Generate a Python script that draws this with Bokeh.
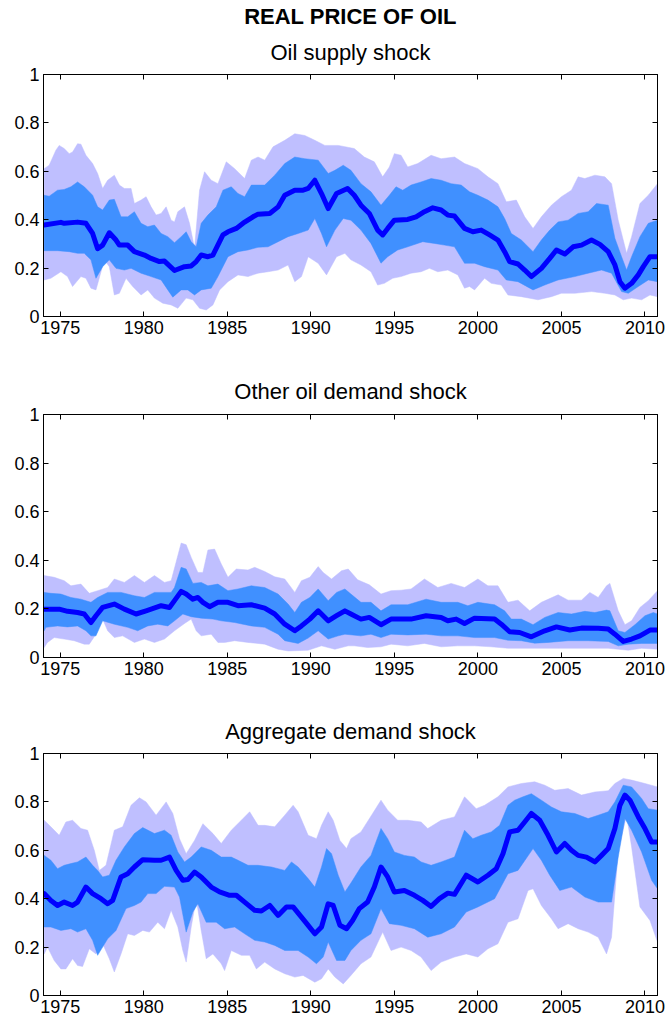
from bokeh.plotting import figure
from bokeh.layouts import column
from bokeh.models import Range1d, FixedTicker, LinearAxis, Title
from bokeh.embed import file_html
from bokeh.resources import INLINE

FONT = "Liberation Sans"
MAIN_TITLE = "REAL PRICE OF OIL"
PANEL_TITLES = ["Oil supply shock", "Other oil demand shock", "Aggregate demand shock"]
YEAR_TICKS = [1975, 1980, 1985, 1990, 1995, 2000, 2005, 2010]
Y_TICKS = [0, 0.2, 0.4, 0.6, 0.8, 1]
Y_LABELS = {0: "0", 0.2: "0.2", 0.4: "0.4", 0.6: "0.6", 0.8: "0.8", 1: "1"}
X_START, X_END = 1974.0, 2010.75

# ---------------- Panel 1: oil supply shock ----------------
supply_med_yr = [1974.04, 1975.04, 1975.24, 1976.04, 1976.54, 1976.94, 1977.24, 1977.54, 1977.94, 1978.34,
                 1978.54, 1979.04, 1979.44, 1980.04, 1980.44, 1980.94, 1981.24, 1981.84, 1982.44, 1982.84,
                 1983.14, 1983.44, 1983.84, 1984.14, 1984.74, 1985.04, 1985.54, 1986.04, 1986.54, 1986.84,
                 1987.54, 1988.04, 1988.44, 1989.04, 1989.54, 1989.84, 1990.24, 1990.64, 1991.04, 1991.54,
                 1992.2, 1992.6, 1993.0, 1993.5, 1994.0, 1994.3, 1994.6, 1995.0, 1995.8, 1996.3,
                 1996.8, 1997.3, 1997.8, 1998.2, 1998.6, 1999.2, 1999.7, 2000.2, 2000.7, 2001.2,
                 2001.6, 2001.9, 2002.4, 2002.8, 2003.2, 2003.8, 2004.3, 2004.7, 2005.2, 2005.7,
                 2006.2, 2006.8, 2007.3, 2007.8, 2008.2, 2008.5, 2008.8, 2009.2, 2009.6, 2009.9,
                 2010.3, 2010.75]
supply_med = [0.378, 0.389, 0.385, 0.39, 0.385, 0.343, 0.28, 0.295, 0.346, 0.316,
              0.295, 0.295, 0.268, 0.254, 0.24, 0.227, 0.229, 0.19, 0.206, 0.209,
              0.227, 0.254, 0.247, 0.254, 0.337, 0.35, 0.364, 0.39, 0.412, 0.423,
              0.426, 0.453, 0.501, 0.522, 0.522, 0.529, 0.563, 0.508, 0.446, 0.508,
              0.529, 0.501, 0.46, 0.426, 0.357, 0.337, 0.364, 0.398, 0.401, 0.412,
              0.433, 0.449, 0.44, 0.419, 0.415, 0.364, 0.35, 0.357, 0.337, 0.316,
              0.268, 0.227, 0.217, 0.192, 0.165, 0.199, 0.24, 0.275, 0.258, 0.288,
              0.295, 0.316, 0.298, 0.268, 0.213, 0.144, 0.117, 0.137, 0.172, 0.206,
              0.247, 0.247]

supply_in_hi_yr = [1974.04, 1974.34, 1974.84, 1975.24, 1975.64, 1976.04, 1976.44, 1976.94, 1977.24, 1977.54,
                   1977.94, 1978.24, 1978.64, 1979.04, 1979.44, 1979.84, 1980.24, 1980.64, 1981.04, 1981.44,
                   1981.84, 1982.24, 1982.54, 1982.84, 1983.14, 1983.44, 1983.84, 1984.34, 1984.74, 1985.24,
                   1985.64, 1986.04, 1986.44, 1987.24, 1987.84, 1988.44, 1989.04, 1989.64, 1990.44, 1991.04,
                   1991.44, 1991.94, 1992.4, 1993.0, 1993.6, 1994.2, 1994.7, 1995.1, 1995.5, 1996.0,
                   1996.6, 1997.2, 1997.8, 1998.4, 1999.0, 1999.5, 2000.0, 2000.6, 2001.2, 2001.6,
                   2002.0, 2002.6, 2003.3, 2003.8, 2004.3, 2004.8, 2005.4, 2006.0, 2006.6, 2007.1,
                   2007.8, 2008.2, 2008.6, 2008.9, 2009.2, 2009.7, 2010.2, 2010.75]
supply_in_hi = [0.501, 0.497, 0.522, 0.525, 0.536, 0.556, 0.536, 0.501, 0.453, 0.44,
                0.481, 0.484, 0.412, 0.412, 0.433, 0.385, 0.371, 0.378, 0.343, 0.33,
                0.305, 0.33, 0.35, 0.309, 0.288, 0.385, 0.419, 0.453, 0.522, 0.536,
                0.508, 0.495, 0.543, 0.543, 0.584, 0.632, 0.659, 0.652, 0.646, 0.591,
                0.604, 0.625, 0.604, 0.549, 0.515, 0.46, 0.501, 0.536, 0.522, 0.543,
                0.556, 0.57, 0.563, 0.549, 0.543, 0.515, 0.501, 0.481, 0.453, 0.405,
                0.343, 0.316, 0.268, 0.316, 0.357, 0.391, 0.398, 0.426, 0.433, 0.467,
                0.46, 0.323, 0.247, 0.192, 0.247, 0.33, 0.385, 0.398]

supply_in_lo_yr = [1974.04, 1974.84, 1975.54, 1976.04, 1976.44, 1976.84, 1977.14, 1977.54, 1977.94, 1978.34,
                   1978.84, 1979.24, 1979.84, 1980.44, 1981.04, 1981.44, 1981.74, 1982.24, 1982.64, 1983.04,
                   1983.44, 1984.04, 1984.44, 1985.04, 1985.64, 1986.24, 1986.84, 1987.44, 1988.04, 1988.64,
                   1989.24, 1989.84, 1990.24, 1990.64, 1990.94, 1991.44, 1991.94, 1992.4, 1993.0, 1993.6,
                   1994.2, 1994.6, 1995.2, 1995.8, 1996.7, 1997.4, 1998.0, 1998.6, 1999.2, 1999.8,
                   2000.4, 2001.2, 2001.7, 2002.4, 2003.3, 2004.0, 2004.8, 2005.8, 2006.6, 2007.4,
                   2008.0, 2008.6, 2009.0, 2009.6, 2010.2, 2010.75]
supply_in_lo = [0.272, 0.272, 0.268, 0.261, 0.261, 0.234, 0.158, 0.206, 0.234, 0.199,
                0.192, 0.199, 0.179, 0.165, 0.151, 0.11, 0.08, 0.11, 0.11, 0.089,
                0.11, 0.117, 0.165, 0.247, 0.268, 0.275, 0.286, 0.288, 0.309, 0.33,
                0.343, 0.357, 0.405, 0.343, 0.288, 0.357, 0.405, 0.398, 0.357, 0.302,
                0.22, 0.247, 0.275, 0.288, 0.309, 0.302, 0.295, 0.288, 0.22, 0.22,
                0.206, 0.192, 0.151, 0.144, 0.11, 0.13, 0.151, 0.165, 0.179, 0.192,
                0.179, 0.103, 0.096, 0.124, 0.151, 0.144]

supply_out_hi_yr = [1974.04, 1974.34, 1974.74, 1974.94, 1975.24, 1975.54, 1975.74, 1976.04, 1976.24, 1976.54,
                    1976.94, 1977.24, 1977.54, 1977.84, 1978.24, 1978.54, 1978.84, 1979.24, 1979.44, 1979.84,
                    1980.14, 1980.44, 1980.74, 1981.04, 1981.34, 1981.64, 1981.84, 1982.04, 1982.44, 1982.74,
                    1983.04, 1983.34, 1983.64, 1984.04, 1984.44, 1984.94, 1985.44, 1986.04, 1986.44, 1986.84,
                    1987.24, 1987.74, 1988.44, 1989.04, 1989.64, 1990.24, 1990.84, 1991.64, 1992.6, 1993.2,
                    1993.8, 1994.3, 1994.7, 1995.0, 1995.4, 1995.8, 1996.4, 1997.2, 1997.8, 1998.6,
                    1999.2, 2000.0, 2000.6, 2001.2, 2001.7, 2002.3, 2002.8, 2003.3, 2003.8, 2004.4,
                    2005.0, 2005.6, 2006.0, 2006.4, 2007.0, 2007.6, 2008.0, 2008.4, 2008.9, 2009.2,
                    2009.7, 2010.2, 2010.75]
supply_out_hi = [0.611, 0.625, 0.687, 0.707, 0.694, 0.673, 0.68, 0.714, 0.712, 0.666,
                 0.632, 0.591, 0.529, 0.563, 0.584, 0.543, 0.529, 0.529, 0.467, 0.481,
                 0.495, 0.453, 0.419, 0.426, 0.453, 0.398, 0.391, 0.433, 0.453, 0.385,
                 0.282, 0.522, 0.598, 0.563, 0.549, 0.639, 0.611, 0.57, 0.646, 0.659,
                 0.646, 0.701, 0.728, 0.755, 0.748, 0.728, 0.707, 0.707, 0.694, 0.659,
                 0.639, 0.577, 0.618, 0.673, 0.666, 0.618, 0.632, 0.666, 0.652, 0.659,
                 0.632, 0.611, 0.577, 0.549, 0.474, 0.481, 0.412, 0.364, 0.412, 0.46,
                 0.495, 0.522, 0.577, 0.57, 0.584, 0.577, 0.549, 0.398, 0.261, 0.33,
                 0.467, 0.501, 0.549]

supply_out_lo_yr = [1974.04, 1974.44, 1975.04, 1975.44, 1975.74, 1976.24, 1976.54, 1976.84, 1977.14, 1977.64,
                    1977.94, 1978.24, 1978.54, 1978.94, 1979.34, 1979.84, 1980.24, 1980.64, 1981.14, 1981.64,
                    1982.04, 1982.54, 1982.94, 1983.34, 1983.74, 1984.14, 1984.54, 1985.04, 1985.64, 1986.24,
                    1986.84, 1987.44, 1988.04, 1988.64, 1989.04, 1989.44, 1989.84, 1990.44, 1990.94, 1991.54,
                    1992.04, 1992.4, 1993.0, 1993.6, 1994.0, 1994.4, 1994.9, 1995.4, 1996.0, 1996.6,
                    1997.1, 1997.6, 1998.2, 1998.8, 1999.2, 1999.5, 1999.8, 2000.4, 2000.8, 2001.4,
                    2001.8, 2002.6, 2003.6, 2004.4, 2005.0, 2005.8, 2006.8, 2007.6, 2008.2, 2008.7,
                    2009.2, 2009.8, 2010.3, 2010.75]
supply_out_lo = [0.151, 0.158, 0.185, 0.165, 0.124, 0.165, 0.158, 0.117, 0.11, 0.234,
                 0.206, 0.089, 0.096, 0.158, 0.124, 0.089, 0.11, 0.076, 0.055, 0.048,
                 0.034, 0.076, 0.069, 0.034, 0.027, 0.048, 0.11, 0.144, 0.172, 0.165,
                 0.179, 0.185, 0.192, 0.213, 0.144, 0.165, 0.247, 0.22, 0.172, 0.247,
                 0.261, 0.234, 0.213, 0.185, 0.13, 0.137, 0.158, 0.165, 0.179, 0.185,
                 0.199, 0.185, 0.192, 0.172, 0.117, 0.124, 0.11, 0.158, 0.137, 0.13,
                 0.089, 0.082, 0.069, 0.082, 0.096, 0.096, 0.103, 0.096, 0.089, 0.069,
                 0.076, 0.069, 0.089, 0.082]

# ---------------- Panel 2: other oil demand shock ----------------
other_med_yr = [1974.04, 1974.94, 1975.44, 1976.04, 1976.44, 1976.84, 1977.14, 1977.54, 1978.24, 1978.84,
                1979.54, 1980.14, 1981.04, 1981.54, 1981.84, 1982.24, 1982.54, 1982.94, 1983.24, 1983.54,
                1983.94, 1984.44, 1985.04, 1985.64, 1986.44, 1987.24, 1987.84, 1988.44, 1989.04, 1989.44,
                1989.94, 1990.44, 1991.04, 1991.54, 1992.04, 1992.4, 1993.0, 1993.5, 1994.2, 1994.8,
                1996.0, 1996.9, 1997.8, 1998.2, 1998.7, 1999.2, 1999.8, 2001.0, 2001.4, 2001.9,
                2002.5, 2003.2, 2004.0, 2004.7, 2005.5, 2006.2, 2007.2, 2007.8, 2008.2, 2008.7,
                2009.2, 2009.7, 2010.3, 2010.75]
other_med = [0.199, 0.199, 0.19, 0.185, 0.179, 0.144, 0.172, 0.206, 0.22, 0.199,
             0.179, 0.192, 0.213, 0.206, 0.234, 0.272, 0.261, 0.24, 0.247, 0.227,
             0.209, 0.227, 0.227, 0.213, 0.217, 0.203, 0.179, 0.137, 0.11, 0.13,
             0.158, 0.192, 0.151, 0.172, 0.192, 0.179, 0.158, 0.165, 0.135, 0.158,
             0.158, 0.172, 0.165, 0.151, 0.158, 0.14, 0.162, 0.158, 0.137, 0.106,
             0.103, 0.085, 0.11, 0.126, 0.113, 0.121, 0.12, 0.117, 0.096, 0.066,
             0.076, 0.089, 0.113, 0.113]

other_in_hi_yr = [1974.04, 1974.44, 1975.04, 1975.64, 1976.24, 1976.84, 1977.24, 1977.84, 1978.64, 1979.44,
                  1980.04, 1980.64, 1981.64, 1981.84, 1982.24, 1982.54, 1982.94, 1983.44, 1983.84, 1984.44,
                  1985.04, 1985.64, 1986.44, 1987.24, 1988.04, 1988.64, 1989.04, 1989.44, 1989.94, 1990.44,
                  1991.04, 1991.54, 1992.04, 1992.4, 1993.0, 1993.6, 1994.2, 1994.8, 1995.8, 1996.9,
                  1997.8, 1998.8, 1999.4, 2000.0, 2001.0, 2001.6, 2002.0, 2002.6, 2003.3, 2004.0,
                  2004.8, 2005.6, 2006.4, 2007.0, 2007.7, 2007.9, 2008.4, 2008.8, 2009.4, 2010.0,
                  2010.5, 2010.75]
other_in_hi = [0.268, 0.264, 0.261, 0.247, 0.24, 0.227, 0.247, 0.268, 0.268, 0.254,
               0.247, 0.268, 0.268, 0.288, 0.371, 0.364, 0.305, 0.309, 0.295, 0.302,
               0.275, 0.282, 0.295, 0.288, 0.261, 0.22, 0.185, 0.227, 0.247, 0.282,
               0.234, 0.268, 0.282, 0.261, 0.227, 0.227, 0.192, 0.217, 0.217, 0.24,
               0.227, 0.227, 0.213, 0.227, 0.217, 0.192, 0.158, 0.158, 0.135, 0.165,
               0.185, 0.179, 0.19, 0.185, 0.195, 0.192, 0.11, 0.103, 0.135, 0.172,
               0.185, 0.179]

other_in_lo_yr = [1974.04, 1974.14, 1974.84, 1975.44, 1976.04, 1976.54, 1976.84, 1977.14, 1977.54, 1978.24,
                  1979.04, 1979.64, 1980.24, 1980.84, 1981.44, 1981.84, 1982.34, 1982.84, 1983.44, 1984.14,
                  1984.64, 1985.44, 1986.44, 1987.24, 1988.04, 1988.44, 1989.24, 1989.84, 1990.44, 1991.04,
                  1991.64, 1992.04, 1993.0, 1993.6, 1994.2, 1994.8, 1995.8, 1996.9, 1997.8, 1998.8,
                  1999.8, 2001.0, 2001.8, 2002.6, 2003.4, 2004.2, 2005.4, 2006.6, 2007.8, 2008.4,
                  2009.0, 2009.8, 2010.75]
other_in_lo = [0.11, 0.124, 0.13, 0.126, 0.13, 0.11, 0.089, 0.089, 0.151, 0.137,
               0.124, 0.11, 0.13, 0.137, 0.13, 0.151, 0.179, 0.168, 0.162, 0.158,
               0.151, 0.144, 0.13, 0.124, 0.096, 0.069, 0.058, 0.08, 0.11, 0.076,
               0.089, 0.096, 0.089, 0.096, 0.082, 0.096, 0.093, 0.096, 0.089, 0.089,
               0.082, 0.082, 0.071, 0.069, 0.059, 0.062, 0.069, 0.069, 0.066, 0.048,
               0.055, 0.058, 0.058]

other_out_hi_yr = [1974.04, 1974.64, 1975.24, 1975.64, 1976.24, 1976.74, 1977.24, 1977.84, 1978.24, 1978.84,
                   1979.44, 1980.04, 1980.64, 1981.24, 1981.64, 1982.24, 1982.54, 1982.84, 1983.24, 1983.54,
                   1983.84, 1984.24, 1984.64, 1985.04, 1985.54, 1986.24, 1986.64, 1987.24, 1987.84, 1988.44,
                   1989.04, 1989.44, 1989.94, 1990.44, 1990.74, 1991.24, 1991.84, 1992.24, 1992.8, 1993.5,
                   1994.2, 1994.8, 1995.4, 1996.0, 1996.8, 1997.6, 1998.4, 1999.2, 2000.0, 2000.6,
                   2001.2, 2001.8, 2002.4, 2003.1, 2003.8, 2004.8, 2005.4, 2006.2, 2006.7, 2007.2,
                   2007.7, 2007.9, 2008.4, 2008.8, 2009.2, 2009.7, 2010.2, 2010.75]
other_out_hi = [0.337, 0.33, 0.316, 0.295, 0.302, 0.264, 0.275, 0.288, 0.323, 0.309,
                0.337, 0.309, 0.337, 0.309, 0.316, 0.471, 0.464, 0.412, 0.35, 0.35,
                0.442, 0.446, 0.385, 0.33, 0.364, 0.36, 0.371, 0.354, 0.332, 0.323,
                0.268, 0.316, 0.33, 0.374, 0.35, 0.323, 0.357, 0.364, 0.32, 0.299,
                0.261, 0.275, 0.277, 0.282, 0.323, 0.288, 0.305, 0.288, 0.323, 0.295,
                0.295, 0.227, 0.236, 0.192, 0.227, 0.258, 0.236, 0.236, 0.268, 0.247,
                0.295, 0.305, 0.192, 0.135, 0.151, 0.206, 0.234, 0.275]

other_out_lo_yr = [1974.04, 1974.24, 1974.64, 1975.24, 1975.84, 1976.44, 1976.74, 1977.14, 1977.54, 1977.84,
                   1978.24, 1978.74, 1979.44, 1980.04, 1980.64, 1981.24, 1981.84, 1982.44, 1982.84, 1983.14,
                   1983.44, 1984.04, 1984.44, 1984.84, 1985.44, 1986.24, 1987.24, 1988.04, 1988.64, 1989.84,
                   1990.64, 1991.44, 1992.24, 1992.6, 1993.4, 1994.2, 1994.8, 1995.8, 1996.8, 1997.8,
                   1998.8, 1999.8, 2000.8, 2001.8, 2003.4, 2004.8, 2006.8, 2007.8, 2008.4, 2009.0,
                   2009.8, 2010.75]
other_out_lo = [0.041, 0.062, 0.082, 0.076, 0.069, 0.055, 0.055, 0.096, 0.158, 0.11,
                0.082, 0.089, 0.062, 0.076, 0.062, 0.076, 0.11, 0.14, 0.158, 0.11,
                0.089, 0.096, 0.062, 0.062, 0.069, 0.062, 0.055, 0.034, 0.027, 0.03,
                0.048, 0.034, 0.048, 0.048, 0.041, 0.044, 0.055, 0.048, 0.058, 0.044,
                0.048, 0.048, 0.044, 0.038, 0.038, 0.038, 0.038, 0.038, 0.034, 0.03,
                0.038, 0.034]

# ---------------- Panel 3: aggregate demand shock ----------------
agg_med_yr = [1974.04, 1974.44, 1974.84, 1975.24, 1975.74, 1976.04, 1976.54, 1976.94, 1977.44, 1977.84,
              1978.14, 1978.64, 1979.04, 1979.44, 1979.94, 1980.64, 1981.04, 1981.54, 1981.94, 1982.34,
              1982.64, 1983.04, 1983.44, 1984.04, 1984.54, 1985.14, 1985.54, 1986.04, 1986.64, 1987.04,
              1987.54, 1988.04, 1988.54, 1988.94, 1989.44, 1989.84, 1990.24, 1990.64, 1991.04, 1991.34,
              1991.74, 1992.14, 1992.5, 1992.9, 1993.4, 1993.8, 1994.2, 1994.6, 1995.0, 1995.6,
              1996.2, 1996.7, 1997.2, 1997.7, 1998.2, 1998.6, 1999.3, 2000.0, 2000.6, 2001.1,
              2001.5, 2001.9, 2002.4, 2002.8, 2003.2, 2003.7, 2004.2, 2004.7, 2005.2, 2005.6,
              2006.0, 2006.5, 2007.0, 2007.4, 2007.8, 2008.2, 2008.5, 2008.8, 2009.1, 2009.6,
              2010.0, 2010.4, 2010.75]
agg_med = [0.421, 0.393, 0.372, 0.386, 0.372, 0.386, 0.448, 0.421, 0.4, 0.379,
           0.393, 0.49, 0.503, 0.531, 0.561, 0.559, 0.559, 0.572, 0.517, 0.476,
           0.479, 0.51, 0.49, 0.448, 0.428, 0.414, 0.414, 0.386, 0.352, 0.349,
           0.372, 0.331, 0.366, 0.366, 0.324, 0.29, 0.255, 0.283, 0.379, 0.372,
           0.29, 0.276, 0.31, 0.359, 0.386, 0.448, 0.531, 0.49, 0.428, 0.434,
           0.414, 0.393, 0.368, 0.4, 0.423, 0.418, 0.497, 0.469, 0.497, 0.524,
           0.586, 0.676, 0.683, 0.717, 0.752, 0.724, 0.662, 0.593, 0.628, 0.6,
           0.579, 0.572, 0.552, 0.579, 0.607, 0.69, 0.786, 0.828, 0.807, 0.738,
           0.69, 0.634, 0.634]

agg_in_hi_yr = [1974.04, 1974.44, 1974.84, 1975.24, 1975.64, 1976.04, 1976.54, 1976.94, 1977.24, 1977.54,
                1977.94, 1978.34, 1978.84, 1979.44, 1979.94, 1980.64, 1981.24, 1981.64, 1982.04, 1982.44,
                1982.84, 1983.44, 1984.04, 1984.64, 1985.24, 1985.64, 1986.24, 1986.84, 1987.64, 1988.44,
                1988.84, 1989.24, 1989.84, 1990.24, 1990.64, 1990.94, 1991.24, 1991.64, 1992.04, 1992.4,
                1993.0, 1993.6, 1994.2, 1994.6, 1995.0, 1995.6, 1996.2, 1996.6, 1997.2, 1997.8,
                1998.6, 1999.2, 1999.7, 2000.2, 2000.8, 2001.3, 2001.8, 2002.2, 2002.7, 2003.2,
                2003.8, 2004.4, 2005.0, 2005.8, 2006.6, 2007.2, 2007.8, 2008.2, 2008.7, 2009.2,
                2009.8, 2010.2, 2010.75]
agg_in_hi = [0.579, 0.559, 0.524, 0.538, 0.545, 0.552, 0.572, 0.538, 0.517, 0.49,
             0.497, 0.559, 0.614, 0.669, 0.694, 0.669, 0.683, 0.662, 0.593, 0.552,
             0.572, 0.614, 0.6, 0.572, 0.572, 0.559, 0.538, 0.538, 0.531, 0.517,
             0.552, 0.531, 0.483, 0.448, 0.531, 0.607, 0.586, 0.497, 0.428, 0.465,
             0.531, 0.579, 0.69, 0.648, 0.593, 0.579, 0.572, 0.552, 0.538, 0.552,
             0.572, 0.683, 0.648, 0.662, 0.676, 0.703, 0.786, 0.807, 0.821, 0.834,
             0.807, 0.779, 0.759, 0.752, 0.731, 0.745, 0.759, 0.8, 0.869, 0.862,
             0.814, 0.772, 0.766]

agg_in_lo_yr = [1974.04, 1974.44, 1975.04, 1975.64, 1976.04, 1976.54, 1976.94, 1977.24, 1977.84, 1978.34,
                1978.94, 1979.44, 1979.84, 1980.24, 1980.74, 1981.24, 1981.84, 1982.14, 1982.54, 1982.94,
                1983.24, 1983.74, 1984.34, 1984.84, 1985.44, 1986.04, 1986.64, 1987.24, 1987.84, 1988.44,
                1989.24, 1989.84, 1990.34, 1990.74, 1991.04, 1991.54, 1992.04, 1992.4, 1993.0, 1993.6,
                1994.2, 1994.7, 1995.4, 1996.2, 1997.0, 1997.8, 1998.6, 1999.3, 2000.0, 2001.0,
                2001.8, 2002.4, 2003.3, 2003.8, 2004.3, 2004.9, 2005.6, 2006.4, 2007.2, 2008.0,
                2008.4, 2008.8, 2009.2, 2009.8, 2010.4, 2010.75]
agg_in_lo = [0.283, 0.283, 0.269, 0.276, 0.262, 0.276, 0.228, 0.166, 0.234, 0.269,
             0.359, 0.372, 0.386, 0.421, 0.421, 0.451, 0.448, 0.407, 0.262, 0.345,
             0.379, 0.303, 0.303, 0.276, 0.283, 0.255, 0.228, 0.221, 0.207, 0.186,
             0.186, 0.159, 0.131, 0.159, 0.221, 0.145, 0.145, 0.186, 0.228, 0.255,
             0.359, 0.297, 0.29, 0.276, 0.241, 0.255, 0.283, 0.345, 0.366, 0.4,
             0.503, 0.517, 0.607, 0.559, 0.497, 0.434, 0.448, 0.407, 0.386, 0.386,
             0.572, 0.731, 0.683, 0.593, 0.476, 0.441]

agg_out_hi_yr = [1974.04, 1974.44, 1974.94, 1975.34, 1975.74, 1976.24, 1976.64, 1977.04, 1977.34, 1977.74,
                 1978.24, 1978.74, 1979.24, 1979.74, 1980.14, 1980.74, 1981.34, 1981.74, 1982.14, 1982.54,
                 1983.04, 1983.54, 1984.14, 1984.64, 1985.24, 1985.84, 1986.34, 1986.84, 1987.24, 1987.84,
                 1988.44, 1988.94, 1989.24, 1989.84, 1990.34, 1990.64, 1991.04, 1991.34, 1991.74, 1992.14,
                 1992.4, 1993.0, 1993.7, 1994.2, 1994.6, 1995.2, 1995.8, 1996.6, 1997.0, 1997.8,
                 1998.6, 1999.2, 1999.9, 2000.4, 2001.2, 2001.8, 2002.6, 2003.4, 2004.0, 2004.6,
                 2005.4, 2006.2, 2007.0, 2007.8, 2008.2, 2008.7, 2009.2, 2010.0, 2010.75]
agg_out_hi = [0.724, 0.697, 0.662, 0.717, 0.724, 0.69, 0.683, 0.6, 0.517, 0.538,
              0.683, 0.697, 0.786, 0.817, 0.8, 0.745, 0.8, 0.752, 0.648, 0.586,
              0.641, 0.71, 0.669, 0.628, 0.683, 0.724, 0.759, 0.703, 0.703, 0.697,
              0.745, 0.786, 0.759, 0.662, 0.648, 0.703, 0.759, 0.724, 0.641, 0.607,
              0.648, 0.676, 0.752, 0.807, 0.766, 0.724, 0.724, 0.717, 0.69, 0.724,
              0.738, 0.821, 0.772, 0.786, 0.821, 0.862, 0.876, 0.883, 0.869, 0.848,
              0.855, 0.828, 0.841, 0.846, 0.876, 0.897, 0.89, 0.876, 0.862]

agg_out_lo_yr = [1974.04, 1974.24, 1974.64, 1975.04, 1975.34, 1975.74, 1976.04, 1976.34, 1976.74, 1977.14,
                 1977.54, 1977.94, 1978.24, 1978.64, 1979.04, 1979.44, 1979.94, 1980.34, 1980.84, 1981.24,
                 1981.64, 1982.04, 1982.34, 1982.54, 1982.84, 1983.14, 1983.44, 1983.74, 1984.14, 1984.64,
                 1984.84, 1985.24, 1985.84, 1986.34, 1986.74, 1987.24, 1987.84, 1988.44, 1989.04, 1989.54,
                 1990.24, 1990.64, 1991.04, 1991.44, 1991.94, 1992.4, 1993.0, 1993.6, 1994.3, 1994.8,
                 1995.4, 1996.0, 1996.6, 1997.2, 1997.8, 1998.6, 1999.3, 2000.0, 2000.6, 2001.2,
                 2001.8, 2002.4, 2003.0, 2003.3, 2003.8, 2004.4, 2004.8, 2005.4, 2006.0, 2006.6,
                 2007.2, 2007.7, 2008.0, 2008.4, 2008.9, 2009.2, 2009.7, 2010.3, 2010.75]
agg_out_lo = [0.172, 0.2, 0.145, 0.11, 0.11, 0.152, 0.124, 0.12, 0.193, 0.172,
              0.214, 0.152, 0.097, 0.172, 0.255, 0.248, 0.269, 0.262, 0.303, 0.276,
              0.352, 0.283, 0.186, 0.138, 0.283, 0.4, 0.269, 0.152, 0.172, 0.131,
              0.103, 0.186, 0.166, 0.166, 0.11, 0.138, 0.11, 0.09, 0.076, 0.083,
              0.055, 0.069, 0.11, 0.076, 0.048, 0.083, 0.131, 0.159, 0.262, 0.186,
              0.2, 0.186, 0.159, 0.103, 0.138, 0.159, 0.172, 0.159, 0.193, 0.214,
              0.303, 0.317, 0.434, 0.441, 0.372, 0.317, 0.276, 0.297, 0.276, 0.262,
              0.241, 0.172, 0.241, 0.6, 0.745, 0.614, 0.366, 0.31, 0.221]

OUTER_COLOR = "#BFBFFF"
INNER_COLOR = "#4090FF"
MEDIAN_COLOR = "#0000FF"


def pair(xs, ys):
    n = min(len(xs), len(ys))
    return list(xs[:n]), list(ys[:n])


def band(p, lo_x, lo_y, hi_x, hi_y, color):
    hx, hy = pair(hi_x, hi_y)
    lx, ly = pair(lo_x, lo_y)
    p.patch(hx + lx[::-1], hy + ly[::-1], fill_color=color, line_color=color, line_width=0.5)


def make_panel(title, height, top, bottom, title_standoff, series, main=False):
    p = figure(width=668, height=height, output_backend="svg", toolbar_location=None,
               x_range=Range1d(X_START, X_END), y_range=Range1d(0, 1),
               min_border_left=43, min_border_right=11, min_border_top=top, min_border_bottom=bottom,
               background_fill_color="white", border_fill_color="white")
    p.outline_line_color = "black"
    p.outline_line_width = 1
    p.xgrid.visible = False
    p.ygrid.visible = False

    (olx, oly, ohx, ohy, ilx, ily, ihx, ihy, mx, my) = series
    band(p, olx, oly, ohx, ohy, OUTER_COLOR)
    band(p, ilx, ily, ihx, ihy, INNER_COLOR)
    mxx, myy = pair(mx, my)
    p.line(mxx, myy, line_color=MEDIAN_COLOR, line_width=5, line_join="round", line_cap="round")

    for ax in (p.xaxis[0], p.yaxis[0]):
        ax.axis_line_color = "black"
        ax.major_tick_in = 5
        ax.major_tick_out = 0
        ax.minor_tick_line_color = None
        ax.major_label_text_font = FONT
        ax.major_label_text_font_size = "18px"
        ax.major_label_text_color = "black"
        ax.major_label_standoff = 4
    p.xaxis[0].ticker = FixedTicker(ticks=YEAR_TICKS)
    p.yaxis[0].ticker = FixedTicker(ticks=Y_TICKS)
    p.yaxis[0].major_label_overrides = Y_LABELS

    top_ax = LinearAxis(ticker=FixedTicker(ticks=YEAR_TICKS), major_tick_in=5, major_tick_out=0,
                        minor_tick_line_color=None, major_label_text_font_size="0px",
                        major_label_text_color=None, major_label_standoff=0, axis_line_color="black")
    right_ax = LinearAxis(ticker=FixedTicker(ticks=Y_TICKS), major_tick_in=5, major_tick_out=0,
                          minor_tick_line_color=None, major_label_text_font_size="0px",
                          major_label_text_color=None, major_label_standoff=0, axis_line_color="black")
    p.add_layout(top_ax, "above")
    p.add_layout(right_ax, "right")

    p.add_layout(Title(text=title, align="center", text_font=FONT, text_font_size="22px",
                       text_font_style="normal", text_color="black", standoff=title_standoff), "above")
    if main:
        p.add_layout(Title(text=MAIN_TITLE, align="center", text_font=FONT, text_font_size="22px",
                           text_font_style="bold", text_color="black", standoff=0, offset=-9), "above")
    return p


p1 = make_panel(PANEL_TITLES[0], 346, 74, 30, 19,
                (supply_out_lo_yr, supply_out_lo, supply_out_hi_yr, supply_out_hi,
                 supply_in_lo_yr, supply_in_lo, supply_in_hi_yr, supply_in_hi,
                 supply_med_yr, supply_med), main=True)
p2 = make_panel(PANEL_TITLES[1], 341, 68, 30, 21,
                (other_out_lo_yr, other_out_lo, other_out_hi_yr, other_out_hi,
                 other_in_lo_yr, other_in_lo, other_in_hi_yr, other_in_hi,
                 other_med_yr, other_med))
p3 = make_panel(PANEL_TITLES[2], 337, 66, 29, 20,
                (agg_out_lo_yr, agg_out_lo, agg_out_hi_yr, agg_out_hi,
                 agg_in_lo_yr, agg_in_lo, agg_in_hi_yr, agg_in_hi,
                 agg_med_yr, agg_med))

layout = column(p1, p2, p3, spacing=0)
open("out.html", "w").write(file_html(layout, INLINE))
